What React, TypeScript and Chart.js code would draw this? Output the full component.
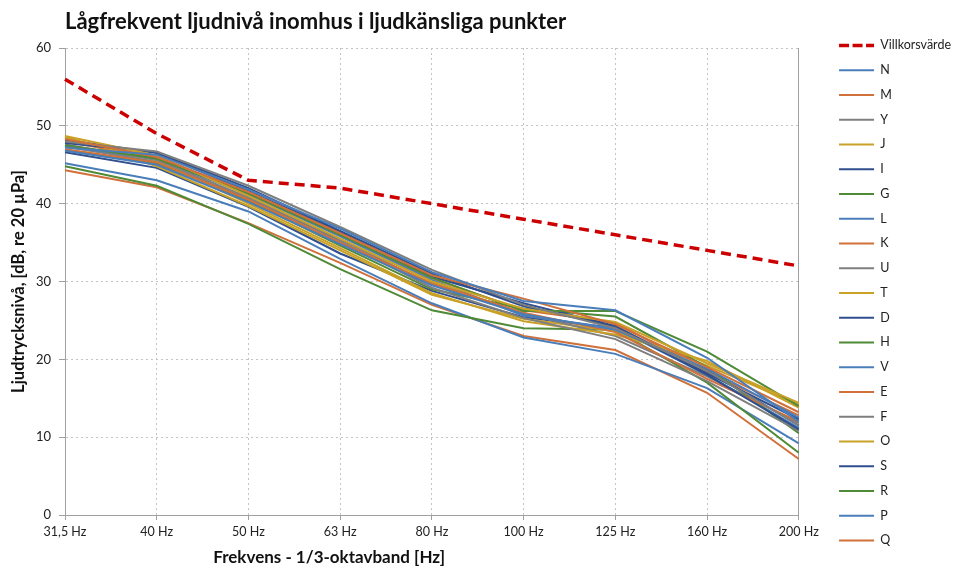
import React, { useEffect, useRef } from "react";
import { Chart, registerables } from "chart.js";

Chart.register(...registerables);

const categories = ["31,5 Hz", "40 Hz", "50 Hz", "63 Hz", "80 Hz", "100 Hz", "125 Hz", "160 Hz", "200 Hz"];

const villkorsvarde = [56, 49, 43, 42, 40, 38, 36, 34, 32];

const N = [47.2, 46.3, 41.8, 36.8, 31.2, 27.5, 26.3, 20.2, 12.0];
const M = [48.3, 46.0, 41.5, 36.2, 30.8, 27.8, 24.5, 19.0, 13.2];
const Y = [48.0, 46.7, 42.3, 37.0, 31.5, 27.0, 24.0, 18.5, 11.5];
const J = [48.7, 46.2, 41.0, 35.5, 30.0, 26.5, 24.8, 19.5, 14.4];
const I = [47.8, 46.6, 42.0, 36.5, 31.0, 26.8, 24.2, 18.0, 11.0];
const G = [47.5, 45.8, 41.3, 36.0, 30.5, 26.2, 26.2, 21.0, 14.0];
const L = [46.8, 45.0, 40.2, 34.8, 29.5, 25.8, 23.8, 18.8, 12.5];
const K = [47.0, 45.3, 40.5, 35.0, 29.8, 26.0, 23.5, 17.5, 12.0];
const U = [47.6, 45.6, 40.8, 35.2, 29.2, 25.3, 22.6, 17.2, 10.8];
const T = [48.5, 45.5, 40.0, 34.3, 28.5, 24.9, 23.2, 19.8, 13.8];
const D = [48.2, 46.5, 41.6, 36.4, 30.6, 27.2, 24.3, 18.2, 12.3];
const H = [46.9, 45.2, 40.4, 34.6, 29.0, 26.5, 25.5, 19.0, 10.5];
const V = [47.4, 45.7, 41.2, 35.8, 30.2, 25.6, 24.0, 18.0, 11.2];
const E = [48.0, 45.9, 41.4, 35.9, 30.4, 26.3, 24.7, 18.4, 12.8];
const F = [47.3, 45.4, 40.6, 35.4, 29.6, 25.9, 23.0, 17.8, 11.8];
const O = [48.6, 44.8, 39.7, 34.0, 28.3, 25.2, 23.6, 19.2, 14.2];
const S = [46.6, 44.6, 39.6, 33.6, 28.8, 25.4, 24.0, 18.6, 11.5];
const R = [44.8, 42.3, 37.4, 31.6, 26.3, 24.0, 23.8, 17.0, 8.0];
const P = [45.2, 43.0, 39.0, 32.9, 27.2, 22.8, 20.7, 16.3, 9.2];
const Q = [44.3, 42.1, 37.5, 32.4, 27.0, 23.0, 21.2, 15.7, 7.2];

const seriesNames = ["N", "M", "Y", "J", "I", "G", "L", "K", "U", "T", "D", "H", "V", "E", "F", "O", "S", "R", "P", "Q"];
const seriesValues = [N, M, Y, J, I, G, L, K, U, T, D, H, V, E, F, O, S, R, P, Q];
const palette = ["#4A7EBB", "#D0703A", "#7F7F7F", "#C9A127", "#2F4F8F", "#4F8A36"];

const title = "Lågfrekvent ljudnivå inomhus i ljudkänsliga punkter";
const yTitle = "Ljudtrycksnivå, [dB, re 20 µPa]";
const xTitle = "Frekvens - 1/3-oktavband [Hz]";

const xTitlePlugin = {
  id: "xTitlePlugin",
  afterDraw(chart: any) {
    const { ctx, chartArea } = chart;
    ctx.save();
    ctx.font = "bold 17px Lato";
    ctx.fillStyle = "#111";
    ctx.textAlign = "center";
    ctx.textBaseline = "middle";
    ctx.fillText(xTitle, chartArea.left + chartArea.width * 0.36, 558);
    ctx.restore();
  },
};

export default function App() {
  const ref = useRef<HTMLCanvasElement>(null);
  useEffect(() => {
    Chart.defaults.font.family = "Lato";
    const datasets: any[] = [
      {
        label: "Villkorsvärde",
        data: villkorsvarde,
        borderColor: "#CC0000",
        backgroundColor: "#CC0000",
        borderWidth: 3.5,
        borderDash: [10, 6],
        pointRadius: 0,
        tension: 0,
      },
      ...seriesNames.map((name, i) => ({
        label: name,
        data: seriesValues[i],
        borderColor: palette[i % palette.length],
        backgroundColor: palette[i % palette.length],
        borderWidth: 2,
        pointRadius: 0,
        tension: 0,
      })),
    ];
    const defaultGen = (Chart as any).defaults.plugins.legend.labels.generateLabels;
    const chart = new Chart(ref.current!, {
      type: "line",
      data: { labels: categories, datasets },
      plugins: [xTitlePlugin],
      options: {
        responsive: false,
        animation: false,
        layout: { padding: { top: 0, bottom: 0, left: 0, right: -6 } },
        plugins: {
          title: {
            display: true,
            text: title,
            align: "start",
            fullSize: false,
            color: "#111",
            font: { size: 22, weight: "bold" },
            padding: { top: 9, bottom: 12.6 },
          },
          legend: {
            position: "right",
            align: "center",
            title: { display: true, text: "", font: { size: 12 }, padding: { top: 2, bottom: 1.4 } },
            labels: {
              usePointStyle: true,
              pointStyle: "line",
              pointStyleWidth: 35,
              padding: 12.25,
              color: "#222",
              font: { size: 12.5 },
              generateLabels: (c: any) =>
                defaultGen(c).map((item: any) => {
                  const ds = c.data.datasets[item.datasetIndex];
                  return {
                    ...item,
                    lineWidth: ds.borderWidth,
                    lineDash: ds.borderDash ? [10, 3.5] : [],
                    strokeStyle: ds.borderColor,
                    lineCap: "butt",
                  };
                }),
            },
          },
          tooltip: { enabled: false },
        },
        scales: {
          x: {
            afterFit: (s: any) => { s.height = 53; },
            grid: {
              color: "#C4C4C4",
              tickColor: "#A0A0A0",
              tickLength: 5,
              tickBorderDash: [],
            },
            border: { display: true, color: "#A0A0A0", dash: [2, 3] },
            ticks: { color: "#222", font: { size: 12.5 }, maxRotation: 0, padding: 4 },
          },
          y: {
            min: 0,
            max: 60,
            afterFit: (s: any) => { s.width = 65; },
            ticks: { stepSize: 10, color: "#222", font: { size: 13 }, padding: 8 },
            grid: { color: "#C4C4C4", tickColor: "#A0A0A0", tickLength: 6 },
            border: { display: true, color: "#A0A0A0", dash: [2, 3] },
            title: {
              display: true,
              text: yTitle,
              color: "#111",
              font: { size: 16.5, weight: "bold" },
              padding: { top: 9, bottom: 4 },
            },
          },
          y2: {
            position: "right",
            min: 0,
            max: 60,
            afterFit: (s: any) => { s.width = 28; },
            grid: { display: false },
            ticks: { display: false },
            border: { display: true, color: "#A0A0A0" },
          },
        },
      } as any,
    });
    return () => chart.destroy();
  }, []);
  return (
    <div style={{ position: "absolute", left: 0, top: 0, width: 955, height: 568, background: "#fff" }}>
      <canvas ref={ref} width={955} height={568} style={{ display: "block" }} />
    </div>
  );
}
